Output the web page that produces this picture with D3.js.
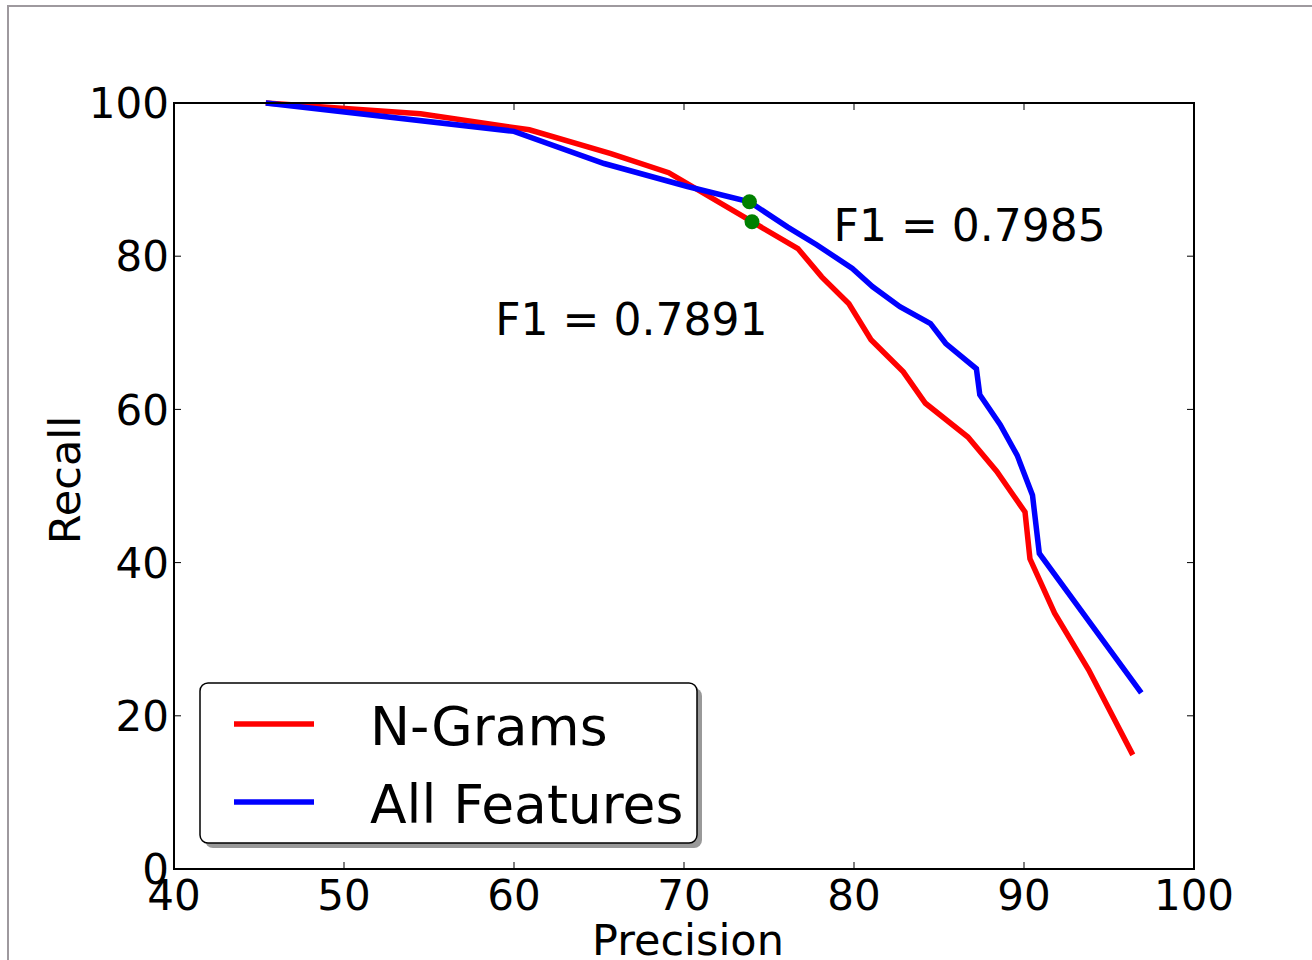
<!DOCTYPE html>
<html>
<head>
<meta charset="utf-8">
<script src="https://cdn.jsdelivr.net/npm/d3@7"></script>
<style>
  body { margin: 0; background: #fff; }
  text { font-family: "DejaVu Sans", sans-serif; fill: #000; }
</style>
</head>
<body>
<div id="chart-area"></div>
<script>
// precision / recall curves
var ngramsPrecision = [45.4, 54.5, 60.9, 65.7, 69.1, 74.0, 76.7, 78.1, 79.7, 81.0, 82.9, 84.2, 86.7, 88.4, 90.06, 90.35, 91.8, 93.8, 96.4];
var ngramsRecall    = [100, 98.6, 96.5, 93.4, 90.9, 84.5, 81.0, 77.3, 73.8, 69.1, 64.9, 60.8, 56.4, 51.9, 46.6, 40.5, 33.4, 26.0, 14.9];

var allPrecision = [45.4, 60.0, 65.3, 70.2, 73.85, 76.1, 77.8, 79.9, 81.1, 82.7, 84.5, 85.4, 87.2, 87.4, 88.6, 89.6, 90.5, 90.9, 96.9];
var allRecall    = [100, 96.3, 92.1, 89.1, 87.1, 83.8, 81.5, 78.4, 76.0, 73.4, 71.2, 68.6, 65.3, 61.9, 58.0, 54.0, 48.8, 41.2, 23.0];

// best F1 points and their labels
var bestPoints = [[73.85, 87.1], [74.0, 84.5]];
var f1Labels = [
  { text: "F1 = 0.7985", x: 78.8, y: 82.0 },
  { text: "F1 = 0.7891", x: 58.9, y: 69.7 }
];

var xTicks = [40, 50, 60, 70, 80, 90, 100];
var yTicks = [0, 20, 40, 60, 80, 100];

var seriesNames = ["N-Grams", "All Features"];
var seriesColors = ["#ff0000", "#0000ff"];

var width = 1312;
var height = 960;
var margin = { top: 103, right: 118, bottom: 91, left: 174 };
var charWidth = width - margin.left - margin.right;
var charHeight = height - margin.top - margin.bottom;

var svg = d3.select("#chart-area")
  .append("svg")
  .attr("width", width)
  .attr("height", height);

// figure frame
svg.append("rect")
  .attr("x", 8).attr("y", 6)
  .attr("width", width + 20).attr("height", height + 20)
  .attr("fill", "none")
  .attr("stroke", "#9e999e")
  .attr("stroke-width", 2);

var g = svg.append("g")
  .attr("transform", "translate(" + margin.left + ", " + margin.top + ")");

var x = d3.scaleLinear().domain([40, 100]).range([0, charWidth]);
var y = d3.scaleLinear().domain([0, 100]).range([charHeight, 0]);

// inward ticks on all sides
var tickLen = 7;
g.selectAll(".xt-b").data(xTicks).enter().append("line")
  .attr("x1", d => x(d)).attr("x2", d => x(d))
  .attr("y1", charHeight).attr("y2", charHeight - tickLen)
  .attr("stroke", "#000").attr("stroke-width", 1);
g.selectAll(".xt-t").data(xTicks).enter().append("line")
  .attr("x1", d => x(d)).attr("x2", d => x(d))
  .attr("y1", 0).attr("y2", tickLen)
  .attr("stroke", "#000").attr("stroke-width", 1);
g.selectAll(".yt-l").data(yTicks).enter().append("line")
  .attr("x1", 0).attr("x2", tickLen)
  .attr("y1", d => y(d)).attr("y2", d => y(d))
  .attr("stroke", "#000").attr("stroke-width", 1);
g.selectAll(".yt-r").data(yTicks).enter().append("line")
  .attr("x1", charWidth).attr("x2", charWidth - tickLen)
  .attr("y1", d => y(d)).attr("y2", d => y(d))
  .attr("stroke", "#000").attr("stroke-width", 1);

// tick labels
g.selectAll(".xl").data(xTicks).enter().append("text")
  .attr("x", d => x(d))
  .attr("y", charHeight + 41)
  .attr("text-anchor", "middle")
  .attr("font-size", "42px")
  .text(d => d);
g.selectAll(".yl").data(yTicks).enter().append("text")
  .attr("x", -5)
  .attr("y", d => y(d))
  .attr("dy", "0.36em")
  .attr("text-anchor", "end")
  .attr("font-size", "42px")
  .text(d => d);

// curves
var line = d3.line().x(d => x(d[0])).y(d => y(d[1]));
var series = [
  d3.zip(ngramsPrecision, ngramsRecall),
  d3.zip(allPrecision, allRecall)
];
g.selectAll(".curve").data(series).enter().append("path")
  .attr("d", line)
  .attr("fill", "none")
  .attr("stroke", (d, i) => seriesColors[i])
  .attr("stroke-width", 5.5)
  .attr("stroke-linejoin", "miter");

// best points
g.selectAll(".best").data(bestPoints).enter().append("circle")
  .attr("cx", d => x(d[0]))
  .attr("cy", d => y(d[1]))
  .attr("r", 7.5)
  .attr("fill", "#008000");

g.selectAll(".f1").data(f1Labels).enter().append("text")
  .attr("x", d => x(d.x))
  .attr("y", d => y(d.y))
  .attr("font-size", "44px")
  .text(d => d.text);

// axes frame
g.append("rect")
  .attr("width", charWidth).attr("height", charHeight)
  .attr("fill", "none")
  .attr("stroke", "#000")
  .attr("stroke-width", 2);

// legend
var legend = svg.append("g").attr("transform", "translate(200, 683)");
legend.append("rect")
  .attr("x", 5).attr("y", 5)
  .attr("width", 497).attr("height", 160)
  .attr("rx", 8)
  .attr("fill", "#999");
legend.append("rect")
  .attr("width", 497).attr("height", 160)
  .attr("rx", 8)
  .attr("fill", "#fff")
  .attr("stroke", "#000")
  .attr("stroke-width", 1.5);
var items = legend.selectAll(".item").data(seriesNames).enter().append("g")
  .attr("transform", (d, i) => "translate(0, " + (41 + i * 78) + ")");
items.append("line")
  .attr("x1", 34).attr("x2", 114)
  .attr("stroke", (d, i) => seriesColors[i])
  .attr("stroke-width", 5.5);
items.append("text")
  .attr("x", 170)
  .attr("y", 21)
  .attr("font-size", "53.5px")
  .text(d => d);

// axis titles
svg.append("text")
  .attr("x", margin.left + charWidth / 2 + 4)
  .attr("y", 955)
  .attr("text-anchor", "middle")
  .attr("font-size", "43px")
  .text("Precision");

svg.append("text")
  .attr("x", -(margin.top + charHeight / 2) + 6)
  .attr("y", 80)
  .attr("text-anchor", "middle")
  .attr("transform", "rotate(-90)")
  .attr("font-size", "43px")
  .text("Recall");
</script>
</body>
</html>
